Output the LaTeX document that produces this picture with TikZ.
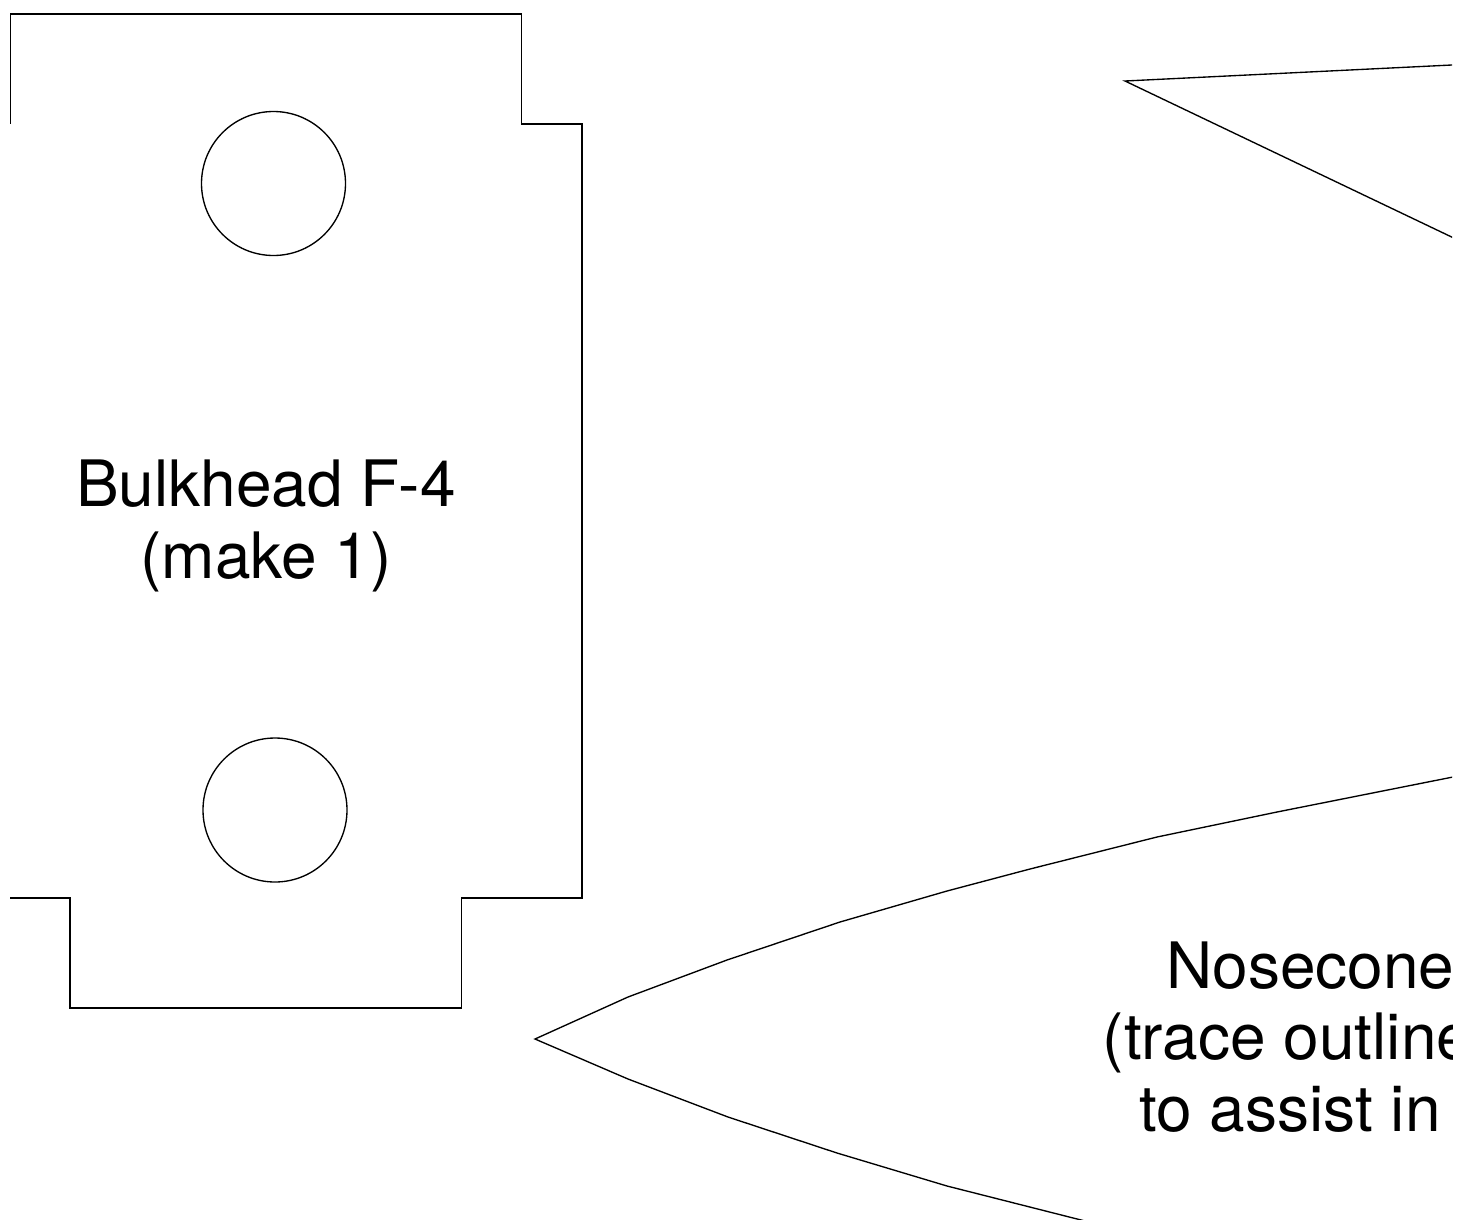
\documentclass[tikz,border=0pt]{standalone}
\usepackage{fontspec}
\setmainfont{TeX Gyre Heros}
\tikzset{
  part/.style={draw=black,line width=1.35pt,line join=miter},
  lbl/.style={font=\fontsize{64pt}{71pt}\selectfont,text=black,inner sep=0pt},
}
\begin{document}
\begin{tikzpicture}[x=1pt,y=-1pt]
\useasboundingbox[fill=white] (0,0) rectangle (1462,1224);
\begin{scope}
\clip (10,0) rectangle (1452,1219.8);
\draw[part] (10,124) -- (10,14) -- (521.5,14) -- (521.5,124) -- (582,124) -- (582,898) -- (461.5,898) -- (461.5,1008) -- (70,1008) -- (70,898) -- (10,898);
\draw[part] (273.5,183.5) circle[radius=72];
\draw[part] (275,810) circle[radius=72];
\draw[part] (1460,64.6) -- (1125,81) -- (1460,241);
\draw[part] (1460,775.6) -- (1277,812) -- (1157,837) -- (1030,869) -- (947,891) -- (840,922) -- (727,960) -- (628,997) -- (535,1039) -- (628,1079) -- (728,1117) -- (837,1153) -- (947,1186) -- (1085,1221);
\node[lbl,anchor=base] (bulk1) at (266,506) {Bulkhead F-4};
\node[lbl,anchor=base] (bulk2) at (266,578) {(make 1)};
\node[lbl,anchor=base west] (nose1) at (1166,988) {Nosecone};
\node[lbl,anchor=base west] (nose2) at (1102.5,1059) {(trace outline};
\node[lbl,anchor=base west] (nose3) at (1139,1131) {to assist in};
\end{scope}
\end{tikzpicture}
\end{document}
